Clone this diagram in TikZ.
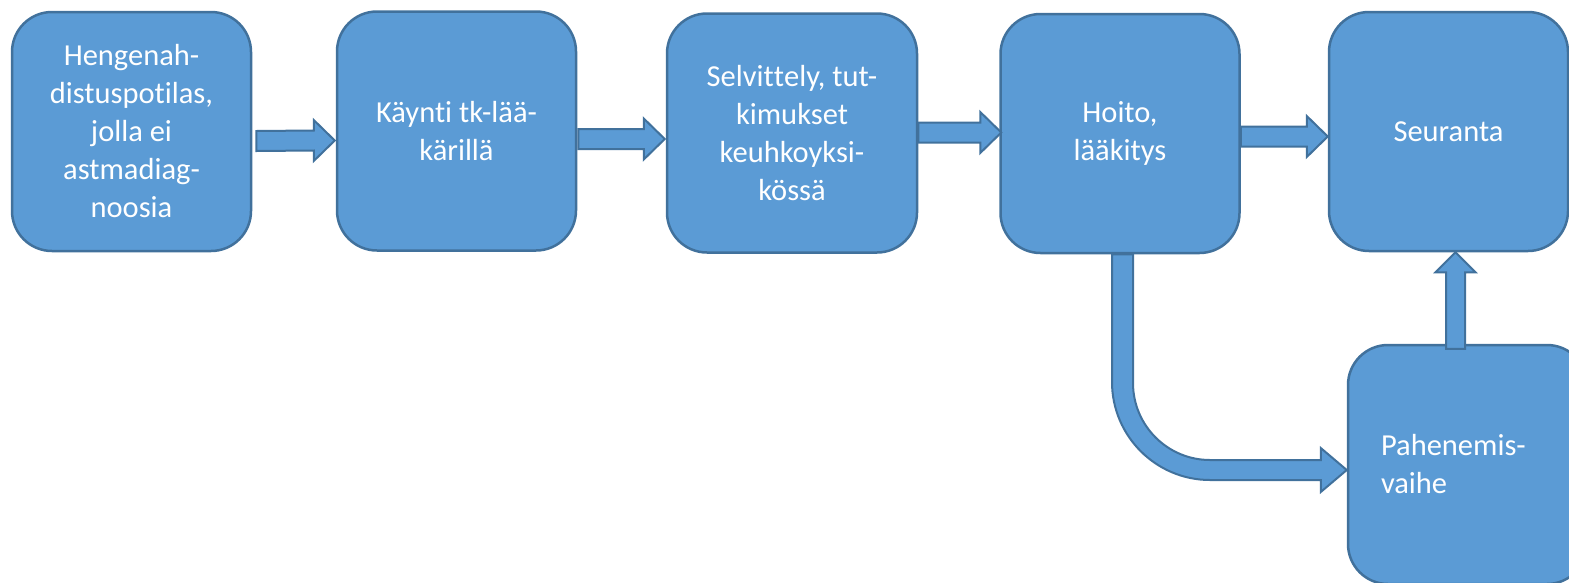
\documentclass[tikz,border=0pt]{standalone}
\usepackage{fontspec}
\setmainfont{Carlito}[Ligatures={NoCommon,NoContextual}]
\usetikzlibrary{calc}
\definecolor{boxfill}{HTML}{5B9BD5}
\definecolor{boxline}{HTML}{41719C}
\newcommand\boxfont{\fontsize{30.5}{38}\selectfont}
\newcommand\nolig{\kern0pt}
% block arrows: #1 = tail, #2 = tip
\newcommand\rarrow[2]{%
  \filldraw[blockarrow] ($(#1)+(0,-10)$) -- ($(#2)+(-21,-10)$) -- ($(#2)+(-21,-20.5)$)
    -- (#2) -- ($(#2)+(-21,20.5)$) -- ($(#2)+(-21,10)$) -- ($(#1)+(0,10)$) -- cycle;}
\newcommand\uarrow[2]{%
  \filldraw[blockarrow] ($(#1)+(-9.5,0)$) -- ($(#2)+(-9.5,20)$) -- ($(#2)+(-20,20)$)
    -- (#2) -- ($(#2)+(20,20)$) -- ($(#2)+(9.5,20)$) -- ($(#1)+(9.5,0)$) -- cycle;}

\begin{document}
\begin{tikzpicture}[x=1pt, y=-1pt,
     box/.style={draw=boxline, fill=boxfill, line width=2.5pt, rounded corners=40pt,
       minimum width=239pt, minimum height=239pt, inner sep=0pt,
       text=white, align=center, font=\boxfont},
     blockarrow/.style={draw=boxline, fill=boxfill, line width=2pt, line join=miter}
   ]
    \useasboundingbox (0,0) rectangle (1569,582);
    % the boxes
    \node[box] (hengenah) at (131.5,131.5) {Hengenah-\\distuspot\nolig ilas,\\jolla ei\\astmadiag-\\noosia};
    \node[box] (kaynti) at (456.5,131) {Käynt\nolig i tk-lää-\\kärillä};
    \node[box, minimum width=250pt] (selvittely) at (792,133) {Selvit\nolig t\nolig ely, tut-\\kimukset\\keuhkoyksi-\\kössä};
    \node[box] (hoito) at (1120,133.5) {Hoito,\\lääkitys};
    \node[box] (seuranta) at (1448.5,131.5) {Seuranta};
    \node[box, align=left, text width=173pt, inner xsep=33pt] (pahenemis) at (1467.5,464.5) {Pahenemis-\\vaihe};
    % arrows between the boxes
    \rarrow{[xshift=4pt,yshift=-9.5pt]hengenah.east}{[xshift=-1pt,yshift=-9.5pt]kaynti.east -| kaynti.west}
    \rarrow{[xshift=1pt,yshift=-8pt]kaynti.east}{[xshift=-1pt,yshift=-6pt]selvittely.west}
    \rarrow{[yshift=0.5pt]selvittely.east}{[xshift=2pt,yshift=1pt]hoito.west}
    \rarrow{[yshift=-3pt]hoito.east}{[yshift=-5pt]seuranta.west}
    \uarrow{[xshift=-12pt,yshift=-5pt]pahenemis.north}{[xshift=7pt]seuranta.south}
    % the bent one
    \coordinate (b1) at ([xshift=2.5pt]hoito.south);
    \coordinate (b2) at ([yshift=-5.5pt]pahenemis.west);
    \coordinate (co) at ($(b1 |- b2)+(-10.5,10)$);
    \coordinate (ci) at ($(b1 |- b2)+(10.5,-10)$);
    \filldraw[blockarrow] ($(b1)+(-10.5,0)$) -- ($(co)+(0,-98)$)
      .. controls ($(co)+(0,-44)$) and ($(co)+(44,0)$) .. ($(co)+(98,0)$)
      -- ($(b2)+(-26,10)$) -- ($(b2)+(-26,22)$) -- (b2) -- ($(b2)+(-26,-22)$)
      -- ($(b2)+(-26,-10)$) -- ($(ci)+(77,0)$)
      .. controls ($(ci)+(34.5,0)$) and ($(ci)+(0,-34.5)$) .. ($(ci)+(0,-77)$)
      -- ($(b1)+(10.5,0)$) -- cycle;
\end{tikzpicture}
\end{document}
